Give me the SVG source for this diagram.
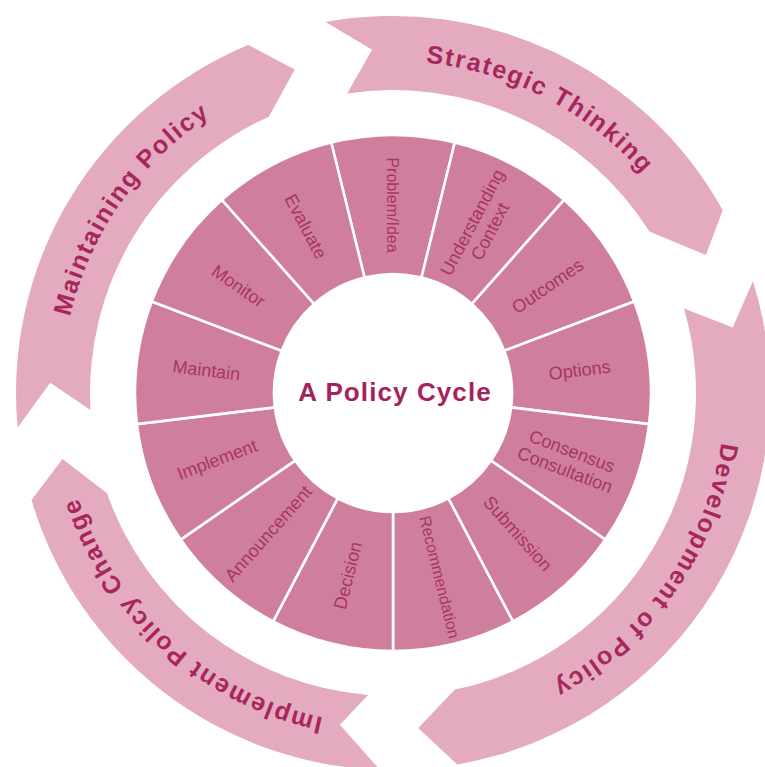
<svg xmlns="http://www.w3.org/2000/svg" width="765" height="767" viewBox="0 0 765 767">
<style>
.band{fill:#e4abc0;}
.seg{fill:#cf7f9d;stroke:#ffffff;stroke-width:2.6;stroke-linejoin:miter;}
.bt{font-family:"Liberation Sans",Arial,sans-serif;font-weight:bold;font-size:25px;letter-spacing:1.8px;fill:#a8265e;}
.st{font-family:"Liberation Sans",Arial,sans-serif;font-size:18px;fill:#a83466;text-anchor:middle;}
.title{font-family:"Liberation Sans",Arial,sans-serif;font-weight:bold;font-size:26px;letter-spacing:1.1px;fill:#a3245c;text-anchor:middle;}
</style>
<defs>
<path id="arcS" d="M 219.53 109.94 A 332 332 0 0 1 724.89 384.31"/>
<path id="arcD" d="M 693.89 252.70 A 332 332 0 0 1 364.05 723.74"/>
<path id="arcI" d="M 495.59 708.77 A 332 332 0 0 1 68.27 323.98"/>
<path id="arcM" d="M 92.11 533.30 A 332 332 0 0 1 421.95 62.26"/>
</defs>
<rect width="765" height="767" fill="#ffffff"/>

<g id="connectors">
<g id="arrow-strategic">
<path class="band" d="M 325.59 22.07 A 377 377 0 0 1 722.72 210.23 L 705.93 255.0 L 649.40 231.53 A 303 303 0 0 0 347.16 93.48 L 372.02 49.64 Z"/>
<text class="bt"><textPath href="#arcS" startOffset="49%" text-anchor="middle">Strategic Thinking</textPath></text>
</g>
<g id="arrow-development">
<path class="band" d="M 752.96 280.88 A 377 377 0 0 1 457.17 764.50 L 418.2 728.06 L 454.96 689.61 A 303 303 0 0 0 683.97 308.46 L 732.77 327.57 Z"/>
<text class="bt"><textPath href="#arcD" startOffset="50%" text-anchor="middle">Development of Policy</textPath></text>
</g>
<g id="arrow-implement">
<path class="band" d="M 379.84 769.77 A 377 377 0 0 1 31.53 500.07 L 62.54 459.02 L 107.03 493.14 A 303 303 0 0 0 368.18 694.97 L 339.85 724.77 Z"/>
<text class="bt"><textPath href="#arcI" startOffset="50%" text-anchor="middle">Implement Policy Change</textPath></text>
</g>
<g id="arrow-maintaining">
<path class="band" d="M 17.62 427.83 A 377 377 0 0 1 248.12 44.95 L 294.74 69.60 L 268.80 116.63 A 303 303 0 0 0 90.48 409.91 L 50.14 382.81 Z"/>
<text class="bt"><textPath href="#arcM" startOffset="50%" text-anchor="middle">Maintaining Policy</textPath></text>
</g>
</g>

<g id="seg-problem">
<path class="seg" d="M 331.26 142.51 A 258 258 0 0 1 454.74 142.51 L 421.48 277.46 A 119 119 0 0 0 364.52 277.46 Z"/>
<text class="st" style="font-size:16px" transform="translate(393 205) rotate(90)" y="6">Problem/Idea</text>
</g>
<g id="seg-understanding">
<path class="seg" d="M 454.74 142.51 A 258 258 0 0 1 564.08 199.89 L 471.91 303.93 A 119 119 0 0 0 421.48 277.46 Z"/>
<text class="st" transform="translate(480.4 226.5) rotate(-62.31)"><tspan x="0" y="-3">Understanding</tspan><tspan x="0" y="17">Context</tspan></text>
</g>
<g id="seg-outcomes">
<path class="seg" d="M 564.08 199.89 A 258 258 0 0 1 634.23 301.51 L 504.27 350.80 A 119 119 0 0 0 471.91 303.93 Z"/>
<text class="st" transform="translate(547.7 286.2) rotate(-34.62)" y="6">Outcomes</text>
</g>
<g id="seg-options">
<path class="seg" d="M 634.23 301.51 A 258 258 0 0 1 649.12 424.09 L 511.13 407.34 A 119 119 0 0 0 504.27 350.80 Z"/>
<text class="st" transform="translate(579.6 370.3) rotate(-6.92)" y="6">Options</text>
</g>
<g id="seg-consensus">
<path class="seg" d="M 649.12 424.09 A 258 258 0 0 1 605.33 539.57 L 490.94 460.60 A 119 119 0 0 0 511.13 407.34 Z"/>
<text class="st" transform="translate(568.8 459.7) rotate(20.77)"><tspan x="0" y="-3">Consensus</tspan><tspan x="0" y="17">Consultation</tspan></text>
</g>
<g id="seg-submission">
<path class="seg" d="M 605.33 539.57 A 258 258 0 0 1 512.89 621.46 L 448.30 498.37 A 119 119 0 0 0 490.94 460.60 Z"/>
<text class="st" transform="translate(517.7 533.7) rotate(48.46)" y="6">Submission</text>
</g>
<g id="seg-recommendation">
<path class="seg" d="M 512.89 621.46 A 258 258 0 0 1 393 651 L 393 512 A 119 119 0 0 0 448.30 498.37 Z"/>
<text class="st" style="font-size:16px" transform="translate(440 577) rotate(76.15)" y="6">Recommendation</text>
</g>
<g id="seg-decision">
<path class="seg" d="M 393 651 A 258 258 0 0 1 273.11 621.46 L 337.70 498.37 A 119 119 0 0 0 393 512 Z"/>
<text class="st" transform="translate(348 575.5) rotate(-76.15)" y="6">Decision</text>
</g>
<g id="seg-announcement">
<path class="seg" d="M 273.11 621.46 A 258 258 0 0 1 180.67 539.57 L 295.06 460.60 A 119 119 0 0 0 337.70 498.37 Z"/>
<text class="st" transform="translate(268.3 533.7) rotate(-48.46)" y="6">Announcement</text>
</g>
<g id="seg-implement">
<path class="seg" d="M 180.67 539.57 A 258 258 0 0 1 136.88 424.09 L 274.87 407.34 A 119 119 0 0 0 295.06 460.60 Z"/>
<text class="st" transform="translate(217.2 459.7) rotate(-20.77)" y="6">Implement</text>
</g>
<g id="seg-maintain">
<path class="seg" d="M 136.88 424.09 A 258 258 0 0 1 151.77 301.51 L 281.73 350.80 A 119 119 0 0 0 274.87 407.34 Z"/>
<text class="st" transform="translate(206.4 370.3) rotate(6.92)" y="6">Maintain</text>
</g>
<g id="seg-monitor">
<path class="seg" d="M 151.77 301.51 A 258 258 0 0 1 221.92 199.89 L 314.09 303.93 A 119 119 0 0 0 281.73 350.80 Z"/>
<text class="st" transform="translate(238.3 286.2) rotate(34.62)" y="6">Monitor</text>
</g>
<g id="seg-evaluate">
<path class="seg" d="M 221.92 199.89 A 258 258 0 0 1 331.26 142.51 L 364.52 277.46 A 119 119 0 0 0 314.09 303.93 Z"/>
<text class="st" transform="translate(305.6 226.5) rotate(62.31)" y="6">Evaluate</text>
</g>

<g id="center">
<text class="title" x="395" y="401">A Policy Cycle</text>
</g>
</svg>
